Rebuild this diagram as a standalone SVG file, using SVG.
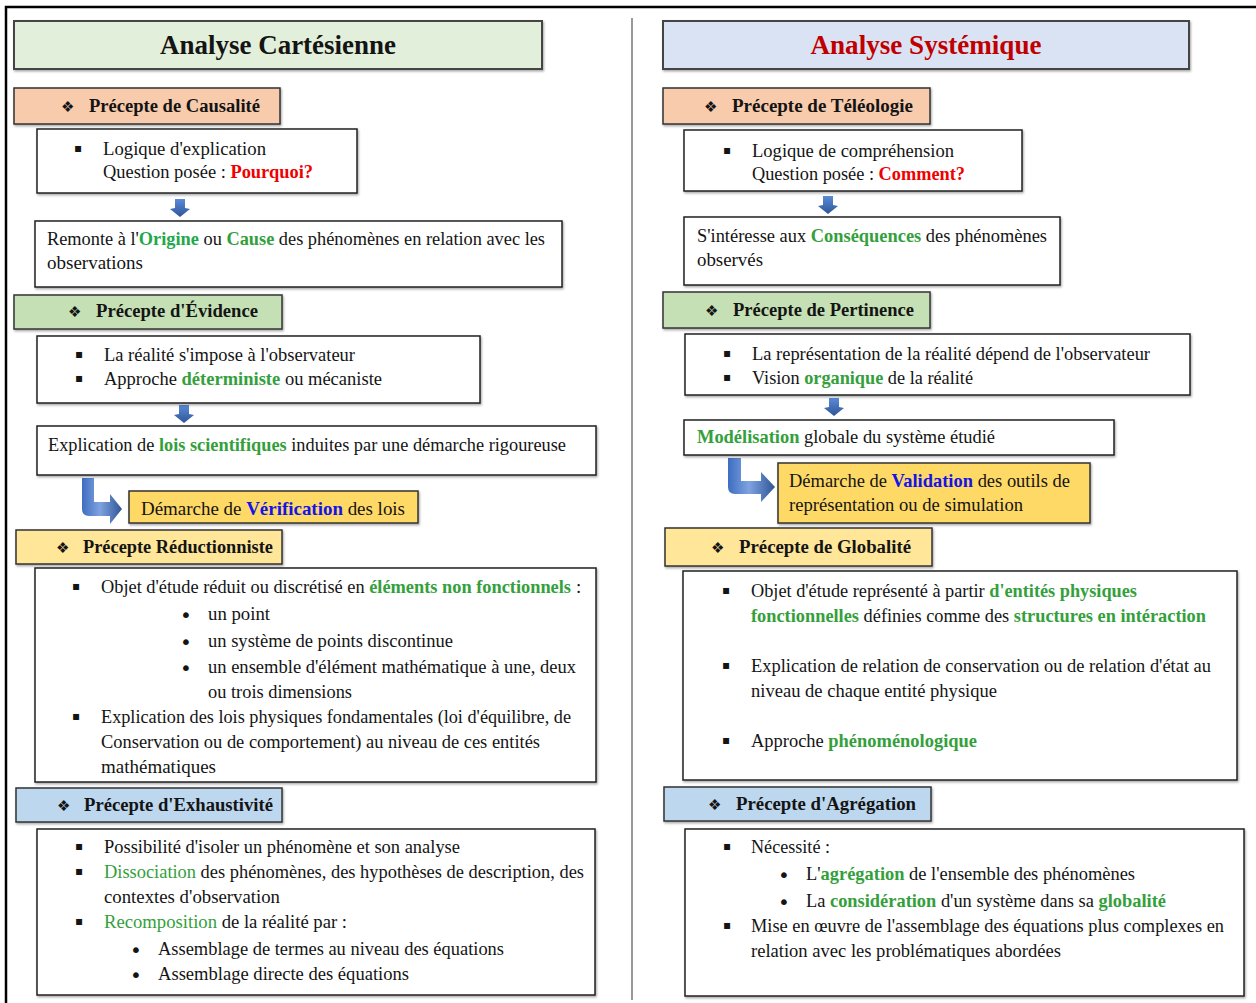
<svg xmlns="http://www.w3.org/2000/svg" width="1256" height="1003" viewBox="0 0 1256 1003">
<defs>
<linearGradient id="ag" x1="0" y1="0" x2="1" y2="0">
<stop offset="0" stop-color="#3E6DC0"/>
<stop offset="0.45" stop-color="#7FA3E0"/>
<stop offset="1" stop-color="#2F5597"/>
</linearGradient>
<linearGradient id="bg" x1="0" y1="0" x2="0" y2="1">
<stop offset="0" stop-color="#5B8BD8"/>
<stop offset="1" stop-color="#2F5597"/>
</linearGradient>
<filter id="sh" x="-5%" y="-5%" width="110%" height="120%">
<feDropShadow dx="1" dy="1.5" stdDeviation="0.8" flood-color="#000" flood-opacity="0.35"/>
</filter>
</defs>
<style>
.b{fill:#fff;stroke:#222;stroke-width:1.5}
.hb{stroke:#333;stroke-width:1.5}
.ttl{stroke:#444;stroke-width:2}
text{font-family:"Liberation Serif","Times New Roman",serif;fill:#141414}
.t{font-size:19px}
.h{font-size:18.5px;font-weight:bold}
.T{font-size:27px;font-weight:bold}
.d{font-family:"DejaVu Sans",sans-serif;font-size:15px}
.sq{font-family:"DejaVu Sans",sans-serif;font-size:12px}
.dot{font-family:"DejaVu Sans",sans-serif;font-size:20px}
.g{fill:#34A03C;font-weight:bold}
.gn{fill:#34A03C}
.r{fill:#F00000;font-weight:bold}
.bl{fill:#1414E6;font-weight:bold}
.arr{fill:url(#bg)}
.bent{fill:url(#ag)}
</style>
<rect x="0" y="0" width="1256" height="1003" fill="#fff"/>
<g id="frame">
<path d="M6,1003 V7 H1256" fill="none" stroke="#000" stroke-width="2.5"/>
<line x1="632" y1="18" x2="632" y2="1000" stroke="#777" stroke-width="1.5"/>
</g>

<g id="connectors">
<path class="arr" d="M175,199 H185 V208 L190,209 L180,217 L170,209 L175,208 Z"/>
<path class="arr" d="M179,405 H189 V414 L194,415 L184,423 L174,415 L179,414 Z"/>
<path class="bent" d="M82,478 H94 V502 H110 V494 L122,509 L110,524 V516 H89 Q82,516 82,509 Z"/>
<path class="arr" d="M823,196 H833 V205 L838,206 L828,214 L818,206 L823,205 Z"/>
<path class="arr" d="M829,398 H839 V407 L844,408 L834,416 L824,408 L829,407 Z"/>
<path class="bent" d="M728,458 H741 V481 H761 V472 L775,487 L761,502 V494 H735 Q728,494 728,487 Z"/>
</g>

<g id="title-left">
<rect class="ttl" x="14" y="21" width="528" height="48" fill="#E2EFDA" filter="url(#sh)"/>
<text class="T" x="278" y="54" text-anchor="middle" textLength="236" lengthAdjust="spacingAndGlyphs">Analyse Cartésienne</text>
</g>
<g id="title-right">
<rect class="ttl" x="663" y="21" width="526" height="48" fill="#DAE3F3" filter="url(#sh)"/>
<text class="T" x="926" y="54" text-anchor="middle" style="fill:#C00000" textLength="231" lengthAdjust="spacingAndGlyphs">Analyse Systémique</text>
</g>

<!-- LEFT COLUMN -->
<g id="p-causalite">
<rect class="hb" x="14" y="88" width="266" height="36" fill="#F8CBAD" filter="url(#sh)"/>
<text class="d" x="61" y="112">❖</text>
<text class="h" x="89" y="112" textLength="171" lengthAdjust="spacingAndGlyphs">Précepte de Causalité</text>
</g>
<g id="n-explication">
<rect class="b" x="37" y="129" width="320" height="64" filter="url(#sh)"/>
<text class="sq" x="74" y="152">▪</text>
<text class="t" x="103" y="155" textLength="163" lengthAdjust="spacingAndGlyphs">Logique d'explication</text>
<text class="t" x="103" y="178" textLength="210" lengthAdjust="spacingAndGlyphs">Question posée : <tspan class="r">Pourquoi?</tspan></text>
</g>
<g id="n-origine">
<rect class="b" x="35" y="221" width="527" height="66" filter="url(#sh)"/>
<text class="t" x="47" y="245" textLength="498" lengthAdjust="spacingAndGlyphs">Remonte à l'<tspan class="g" style="fill:#1FA84A">Origine</tspan> ou <tspan class="g">Cause</tspan> des phénomènes en relation avec les</text>
<text class="t" x="47" y="269" textLength="96" lengthAdjust="spacingAndGlyphs">observations</text>
</g>
<g id="p-evidence">
<rect class="hb" x="14" y="295" width="268" height="34" fill="#C5E0B4" filter="url(#sh)"/>
<text class="d" x="68" y="317">❖</text>
<text class="h" x="96" y="317" textLength="162" lengthAdjust="spacingAndGlyphs">Précepte d'Évidence</text>
</g>
<g id="n-realite">
<rect class="b" x="37" y="336" width="443" height="67" filter="url(#sh)"/>
<text class="sq" x="75" y="358">▪</text>
<text class="t" x="104" y="361" textLength="251" lengthAdjust="spacingAndGlyphs">La réalité s'impose à l'observateur</text>
<text class="sq" x="75" y="382">▪</text>
<text class="t" x="104" y="385" textLength="278" lengthAdjust="spacingAndGlyphs">Approche <tspan class="g">déterministe</tspan> ou mécaniste</text>
</g>
<g id="n-lois">
<rect class="b" x="37" y="426" width="559" height="49" filter="url(#sh)"/>
<text class="t" x="48" y="451" textLength="518" lengthAdjust="spacingAndGlyphs">Explication de <tspan class="g">lois scientifiques</tspan> induites par une démarche rigoureuse</text>
</g>
<g id="n-verification">
<rect class="hb" x="129" y="491" width="289" height="32" fill="#FFD966" filter="url(#sh)"/>
<text class="t" x="141" y="515" textLength="264" lengthAdjust="spacingAndGlyphs">Démarche de <tspan class="bl">Vérification</tspan> des lois</text>
</g>
<g id="p-reductionniste">
<rect class="hb" x="16" y="530" width="266" height="34" fill="#FFE699" filter="url(#sh)"/>
<text class="d" x="56" y="553">❖</text>
<text class="h" x="83" y="553" textLength="190" lengthAdjust="spacingAndGlyphs">Précepte Réductionniste</text>
</g>
<g id="n-objet-reduit">
<rect class="b" x="35" y="568" width="561" height="214" filter="url(#sh)"/>
<text class="sq" x="72" y="590">▪</text>
<text class="t" x="101" y="593" textLength="470" lengthAdjust="spacingAndGlyphs">Objet d'étude réduit ou discrétisé en <tspan class="g">éléments non fonctionnels</tspan></text>
<text class="t" x="576" y="593">:</text>
<text class="dot" x="180" y="622">•</text>
<text class="t" x="208" y="620" textLength="62" lengthAdjust="spacingAndGlyphs">un point</text>
<text class="dot" x="180" y="649">•</text>
<text class="t" x="208" y="647" textLength="245" lengthAdjust="spacingAndGlyphs">un système de points discontinue</text>
<text class="dot" x="180" y="675">•</text>
<text class="t" x="208" y="673" textLength="368" lengthAdjust="spacingAndGlyphs">un ensemble d'élément mathématique à une, deux</text>
<text class="t" x="208" y="698" textLength="144" lengthAdjust="spacingAndGlyphs">ou trois dimensions</text>
<text class="sq" x="72" y="720">▪</text>
<text class="t" x="101" y="723" textLength="470" lengthAdjust="spacingAndGlyphs">Explication des lois physiques fondamentales (loi d'équilibre, de</text>
<text class="t" x="101" y="748" textLength="439" lengthAdjust="spacingAndGlyphs">Conservation ou de comportement) au niveau de ces entités</text>
<text class="t" x="101" y="773" textLength="115" lengthAdjust="spacingAndGlyphs">mathématiques</text>
</g>
<g id="p-exhaustivite">
<rect class="hb" x="16" y="788" width="266" height="34" fill="#BDD7EE" filter="url(#sh)"/>
<text class="d" x="57" y="811">❖</text>
<text class="h" x="84" y="811" textLength="189" lengthAdjust="spacingAndGlyphs">Précepte d'Exhaustivité</text>
</g>
<g id="n-isoler">
<rect class="b" x="37" y="829" width="558" height="166" filter="url(#sh)"/>
<text class="sq" x="75" y="850">▪</text>
<text class="t" x="104" y="853" textLength="356" lengthAdjust="spacingAndGlyphs">Possibilité d'isoler un phénomène et son analyse</text>
<text class="sq" x="75" y="875">▪</text>
<text class="t" x="104" y="878" textLength="480" lengthAdjust="spacingAndGlyphs"><tspan class="gn">Dissociation</tspan> des phénomènes, des hypothèses de description, des</text>
<text class="t" x="104" y="903" textLength="176" lengthAdjust="spacingAndGlyphs">contextes d'observation</text>
<text class="sq" x="75" y="925">▪</text>
<text class="t" x="104" y="928" textLength="243" lengthAdjust="spacingAndGlyphs"><tspan class="gn">Recomposition</tspan> de la réalité par :</text>
<text class="dot" x="130" y="957">•</text>
<text class="t" x="158" y="955" textLength="346" lengthAdjust="spacingAndGlyphs">Assemblage de termes au niveau des équations</text>
<text class="dot" x="130" y="982">•</text>
<text class="t" x="158" y="980" textLength="251" lengthAdjust="spacingAndGlyphs">Assemblage directe des équations</text>
</g>

<!-- RIGHT COLUMN -->
<g id="p-teleologie">
<rect class="hb" x="663" y="88" width="267" height="36" fill="#F8CBAD" filter="url(#sh)"/>
<text class="d" x="704" y="112">❖</text>
<text class="h" x="732" y="112" textLength="181" lengthAdjust="spacingAndGlyphs">Précepte de Téléologie</text>
</g>
<g id="n-comprehension">
<rect class="b" x="684" y="130" width="338" height="61" filter="url(#sh)"/>
<text class="sq" x="723" y="154">▪</text>
<text class="t" x="752" y="157" textLength="202" lengthAdjust="spacingAndGlyphs">Logique de compréhension</text>
<text class="t" x="752" y="180" textLength="213" lengthAdjust="spacingAndGlyphs">Question posée : <tspan class="r">Comment?</tspan></text>
</g>
<g id="n-consequences">
<rect class="b" x="684" y="217" width="376" height="68" filter="url(#sh)"/>
<text class="t" x="697" y="242" textLength="350" lengthAdjust="spacingAndGlyphs">S'intéresse aux <tspan class="g">Conséquences</tspan> des phénomènes</text>
<text class="t" x="697" y="266" textLength="66" lengthAdjust="spacingAndGlyphs">observés</text>
</g>
<g id="p-pertinence">
<rect class="hb" x="663" y="292" width="267" height="36" fill="#C5E0B4" filter="url(#sh)"/>
<text class="d" x="705" y="316">❖</text>
<text class="h" x="733" y="316" textLength="181" lengthAdjust="spacingAndGlyphs">Précepte de Pertinence</text>
</g>
<g id="n-representation">
<rect class="b" x="685" y="334" width="505" height="61" filter="url(#sh)"/>
<text class="sq" x="723" y="357">▪</text>
<text class="t" x="752" y="360" textLength="398" lengthAdjust="spacingAndGlyphs">La représentation de la réalité dépend de l'observateur</text>
<text class="sq" x="723" y="381">▪</text>
<text class="t" x="752" y="384" textLength="221" lengthAdjust="spacingAndGlyphs">Vision <tspan class="g">organique</tspan> de la réalité</text>
</g>
<g id="n-modelisation">
<rect class="b" x="684" y="420" width="430" height="35" filter="url(#sh)"/>
<text class="t" x="697" y="443" textLength="298" lengthAdjust="spacingAndGlyphs"><tspan class="g">Modélisation</tspan> globale du système étudié</text>
</g>
<g id="n-validation">
<rect class="hb" x="778" y="463" width="312" height="60" fill="#FFD966" filter="url(#sh)"/>
<text class="t" x="789" y="487" textLength="281" lengthAdjust="spacingAndGlyphs">Démarche de <tspan class="bl">Validation</tspan> des outils de</text>
<text class="t" x="789" y="511" textLength="234" lengthAdjust="spacingAndGlyphs">représentation ou de simulation</text>
</g>
<g id="p-globalite">
<rect class="hb" x="665" y="528" width="267" height="38" fill="#FFE699" filter="url(#sh)"/>
<text class="d" x="711" y="553">❖</text>
<text class="h" x="739" y="553" textLength="172" lengthAdjust="spacingAndGlyphs">Précepte de Globalité</text>
</g>
<g id="n-objet-represente">
<rect class="b" x="683" y="571" width="554" height="209" filter="url(#sh)"/>
<text class="sq" x="722" y="594">▪</text>
<text class="t" x="751" y="597" textLength="386" lengthAdjust="spacingAndGlyphs">Objet d'étude représenté à partir <tspan class="g">d'entités physiques</tspan></text>
<text class="t" x="751" y="622" textLength="455" lengthAdjust="spacingAndGlyphs"><tspan class="g">fonctionnelles</tspan> définies comme des <tspan class="g">structures en intéraction</tspan></text>
<text class="sq" x="722" y="669">▪</text>
<text class="t" x="751" y="672" textLength="460" lengthAdjust="spacingAndGlyphs">Explication de relation de conservation ou de relation d'état au</text>
<text class="t" x="751" y="697" textLength="246" lengthAdjust="spacingAndGlyphs">niveau de chaque entité physique</text>
<text class="sq" x="722" y="744">▪</text>
<text class="t" x="751" y="747" textLength="226" lengthAdjust="spacingAndGlyphs">Approche <tspan class="g">phénoménologique</tspan></text>
</g>
<g id="p-agregation">
<rect class="hb" x="664" y="787" width="267" height="34" fill="#BDD7EE" filter="url(#sh)"/>
<text class="d" x="708" y="810">❖</text>
<text class="h" x="736" y="810" textLength="180" lengthAdjust="spacingAndGlyphs">Précepte d'Agrégation</text>
</g>
<g id="n-necessite">
<rect class="b" x="685" y="829" width="559" height="167" filter="url(#sh)"/>
<text class="sq" x="723" y="850">▪</text>
<text class="t" x="751" y="853" textLength="79" lengthAdjust="spacingAndGlyphs">Nécessité :</text>
<text class="dot" x="778" y="882">•</text>
<text class="t" x="806" y="880" textLength="329" lengthAdjust="spacingAndGlyphs">L'<tspan class="g">agrégation</tspan> de l'ensemble des phénomènes</text>
<text class="dot" x="778" y="909">•</text>
<text class="t" x="806" y="907" textLength="360" lengthAdjust="spacingAndGlyphs">La <tspan class="g">considération</tspan> d'un système dans sa <tspan class="g">globalité</tspan></text>
<text class="sq" x="723" y="929">▪</text>
<text class="t" x="751" y="932" textLength="473" lengthAdjust="spacingAndGlyphs">Mise en œuvre de l'assemblage des équations plus complexes en</text>
<text class="t" x="751" y="957" textLength="310" lengthAdjust="spacingAndGlyphs">relation avec les problématiques abordées</text>
</g>
</svg>
